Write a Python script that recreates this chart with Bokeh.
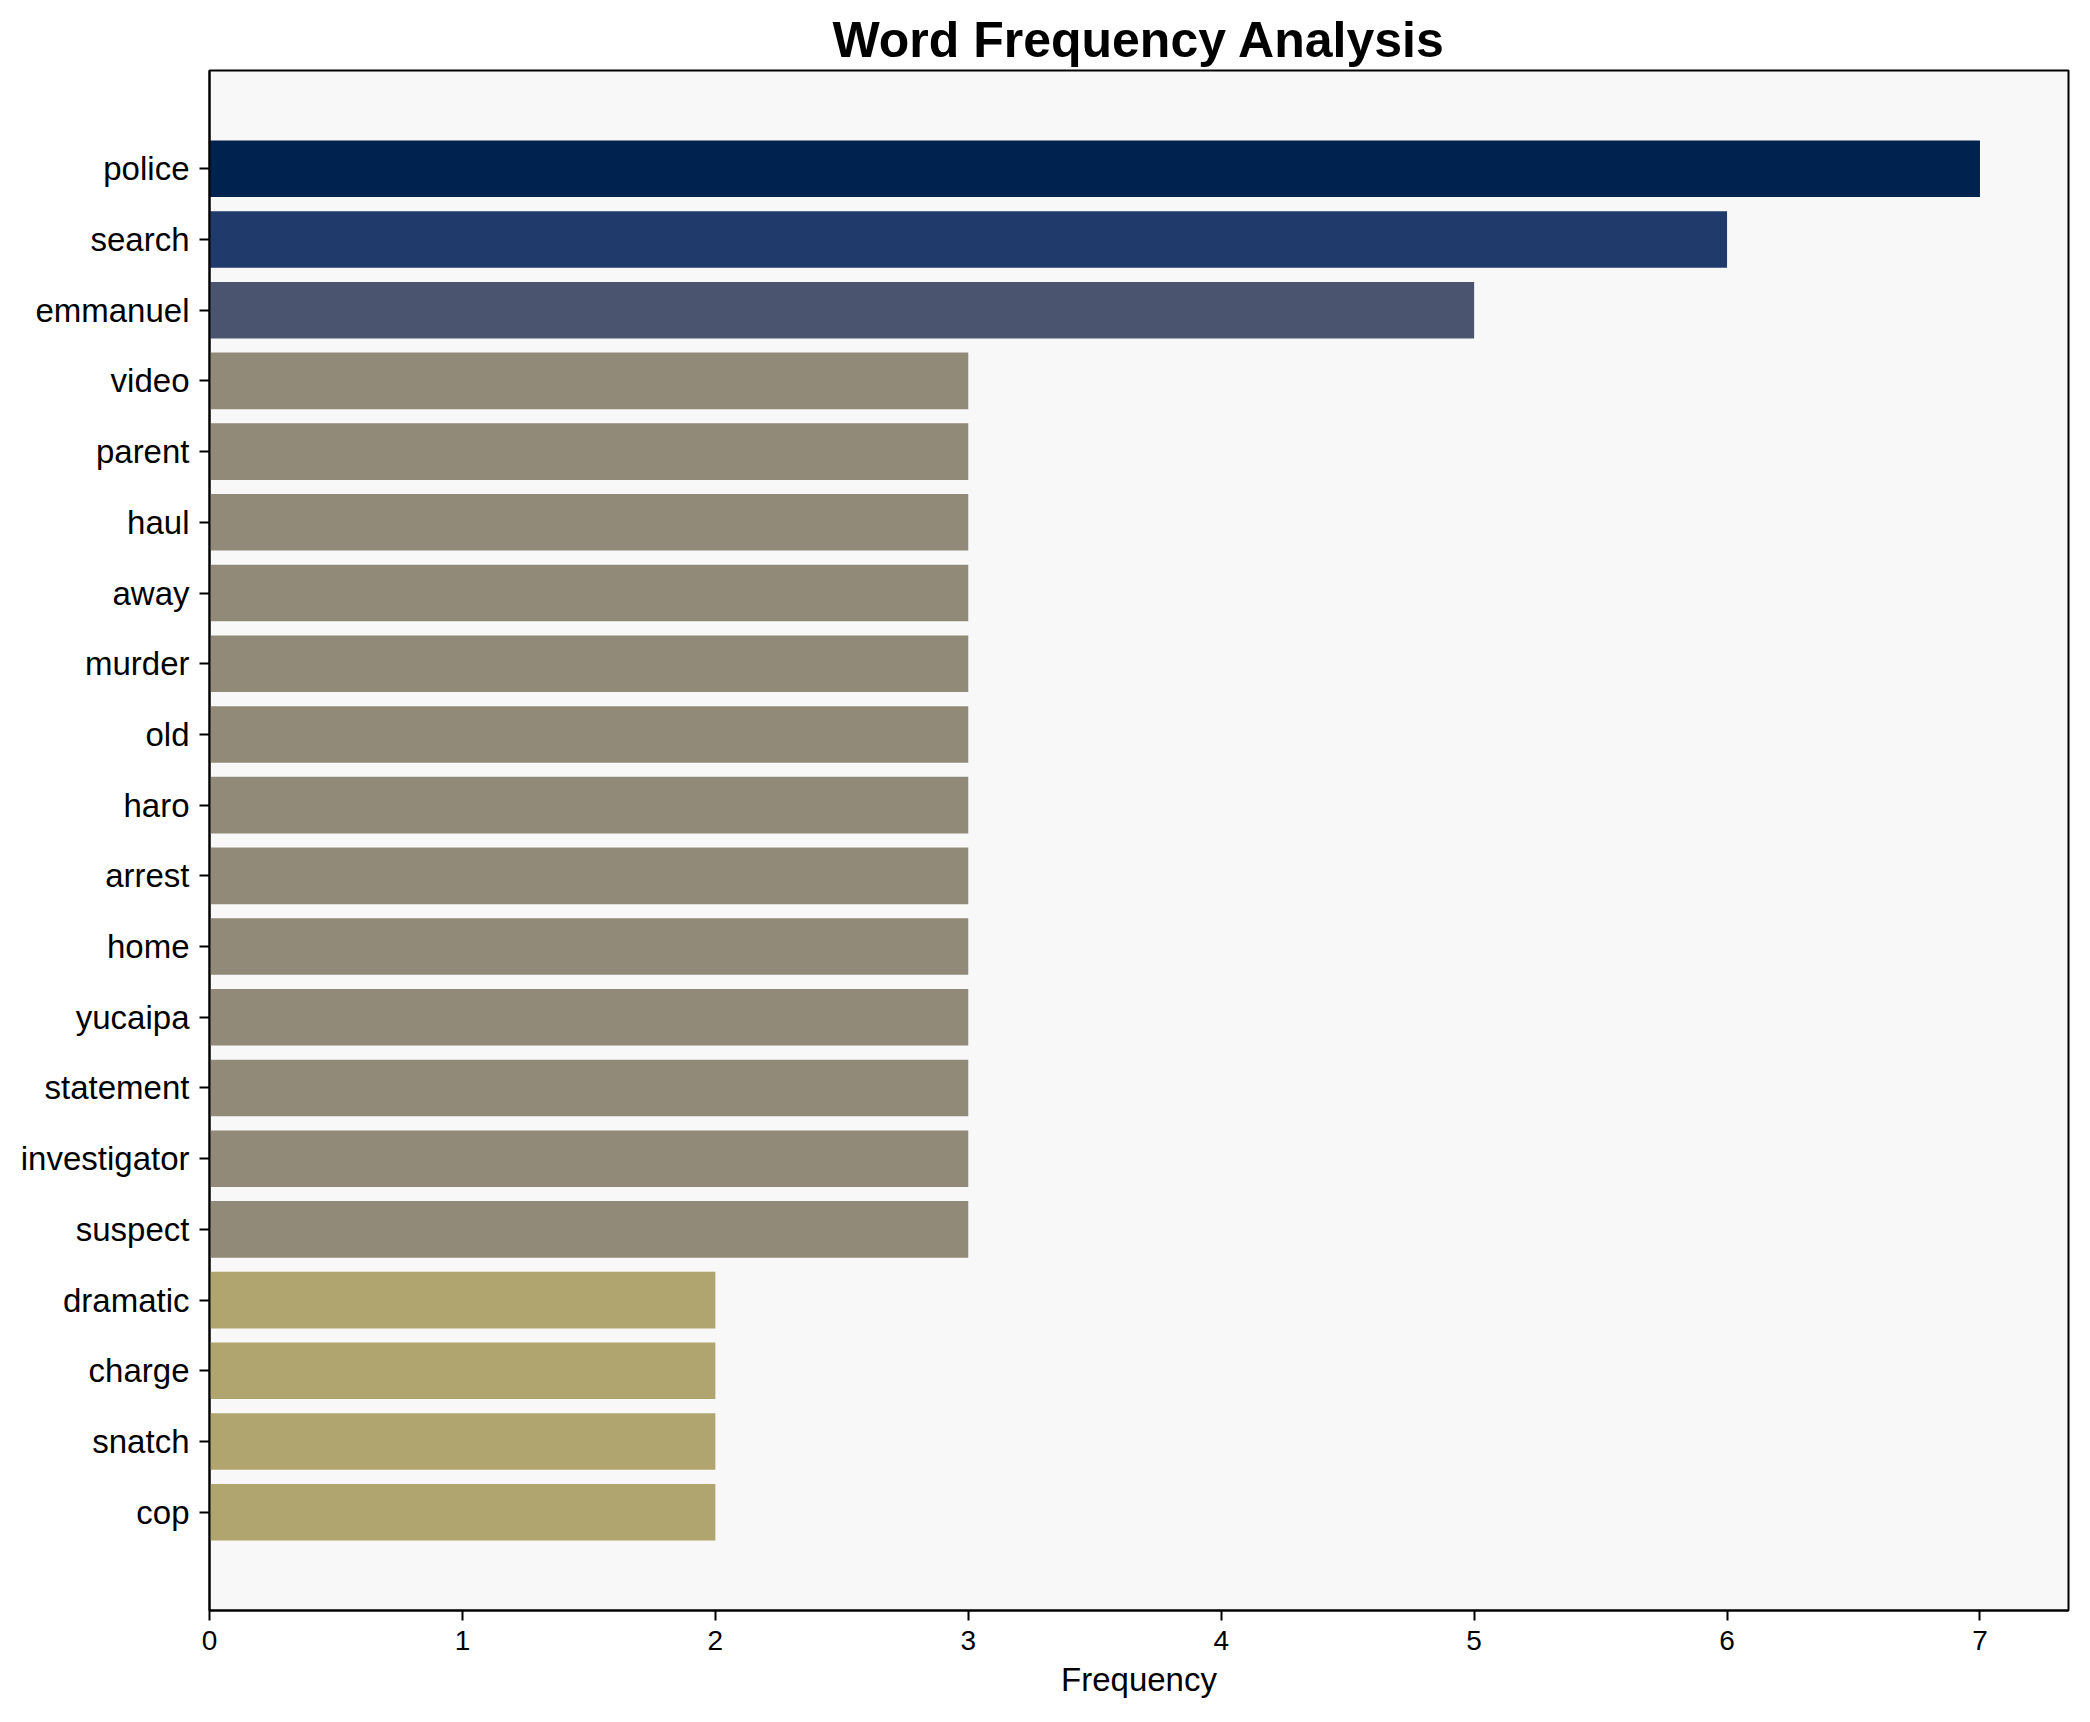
from bokeh.plotting import figure
from bokeh.models import FactorRange, Range1d, FixedTicker, ColumnDataSource
from bokeh.embed import file_html
from bokeh.resources import INLINE

words = ["police", "search", "emmanuel", "video", "parent", "haul", "away", "murder",
         "old", "haro", "arrest", "home", "yucaipa", "statement", "investigator",
         "suspect", "dramatic", "charge", "snatch", "cop"]
freqs = [7, 6, 5, 3, 3, 3, 3, 3, 3, 3, 3, 3, 3, 3, 3, 3, 2, 2, 2, 2]
x_ticks = [0, 1, 2, 3, 4, 5, 6, 7]

color_by_value = {7: "#00224e", 6: "#213a6c", 5: "#4b546e", 3: "#918a78", 2: "#b0a56e"}
colors = [color_by_value[v] for v in freqs]

src = ColumnDataSource(dict(word=words, freq=freqs, color=colors))

FONT = "Liberation Sans"

p = figure(
    width=2074, height=1700,
    y_range=FactorRange(factors=list(reversed(words)), range_padding=0.089,
                        range_padding_units="percent"),
    x_range=Range1d(0, 7.35),
    output_backend="svg", toolbar_location=None,
    title="Word Frequency Analysis",
    min_border_left=209, min_border_right=6, min_border_top=70, min_border_bottom=89,
)

p.hbar(y="word", left=0, right="freq", height=0.8, fill_color="color",
       line_color=None, source=src)

p.background_fill_color = "#f8f8f8"
p.border_fill_color = "white"
p.outline_line_color = "black"
p.outline_line_width = 2
p.xgrid.visible = False
p.ygrid.visible = False

p.title.text_font = FONT
p.title.text_font_size = "50px"
p.title.text_font_style = "bold"
p.title.align = "center"
p.title.standoff = 6
p.title.text_color = "black"

p.xaxis.ticker = FixedTicker(ticks=x_ticks)
p.xaxis.axis_label = "Frequency"
p.xaxis.axis_label_text_font = FONT
p.xaxis.axis_label_text_font_size = "33px"
p.xaxis.axis_label_text_font_style = "normal"
p.xaxis.axis_label_text_color = "black"
p.xaxis.axis_label_standoff = 8
p.xaxis.major_label_text_font = FONT
p.xaxis.major_label_text_font_size = "28px"
p.xaxis.major_label_standoff = 10

p.yaxis.major_label_text_font = FONT
p.yaxis.major_label_text_font_size = "33px"
p.yaxis.major_label_standoff = 10

for ax in (p.xaxis, p.yaxis):
    ax.axis_line_color = "black"
    ax.axis_line_width = 2
    ax.major_tick_line_color = "black"
    ax.major_tick_line_width = 2
    ax.major_tick_out = 10
    ax.major_tick_in = 0
    ax.minor_tick_line_color = None
    ax.major_label_text_color = "black"

open("out.html", "w").write(file_html(p, INLINE))
